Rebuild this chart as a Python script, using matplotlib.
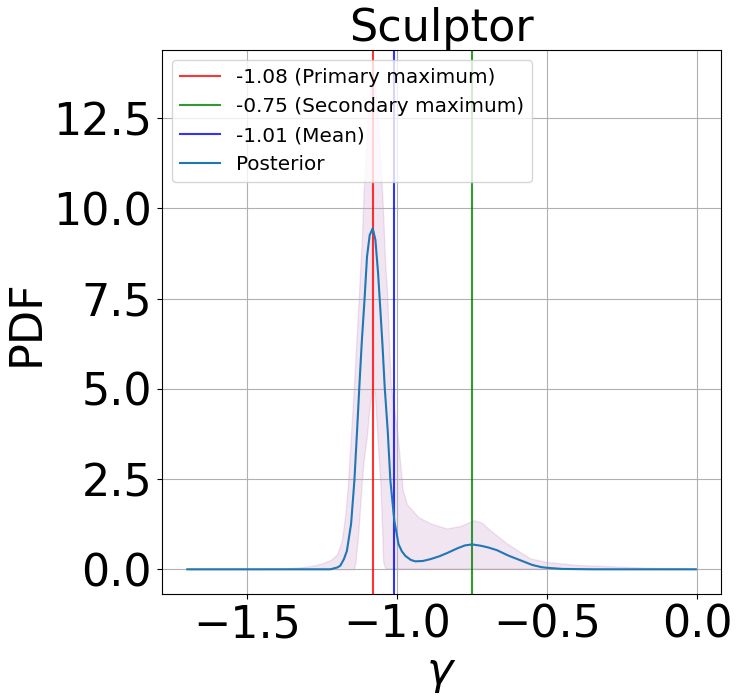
import matplotlib
matplotlib.use("Agg")
import matplotlib.pyplot as plt
from matplotlib.ticker import MultipleLocator

# posterior curve (gamma, pdf)
gamma = [-1.70, -1.40, -1.26, -1.223, -1.20, -1.19, -1.178, -1.168, -1.154, -1.143,
         -1.134, -1.126, -1.118, -1.109, -1.101, -1.092, -1.082, -1.073, -1.064, -1.057,
         -1.049, -1.042, -1.032, -1.023, -1.01, -0.996, -0.985, -0.973, -0.955, -0.94,
         -0.915, -0.89, -0.86, -0.834, -0.80, -0.775, -0.751, -0.72, -0.695, -0.668,
         -0.63, -0.59, -0.55, -0.52, -0.50, -0.45, -0.35, -0.005]
pdf = [0.0, 0.0, 0.0, 0.0, 0.05, 0.1, 0.28, 0.51, 1.26, 2.46,
       3.85, 5.14, 6.35, 7.5, 8.66, 9.26, 9.45, 9.13, 8.2, 7.27,
       6.16, 5.05, 3.85, 2.46, 1.35, 0.7, 0.5, 0.37, 0.26, 0.22,
       0.23, 0.28, 0.36, 0.45, 0.58, 0.66, 0.69, 0.65, 0.6, 0.53,
       0.38, 0.25, 0.12, 0.06, 0.04, 0.01, 0.0, 0.0]

# credible band
band_x = [-1.70, -1.40, -1.33, -1.28, -1.25, -1.223, -1.20, -1.185, -1.173, -1.165,
          -1.157, -1.145, -1.14, -1.13, -1.118, -1.112, -1.10, -1.095, -1.085, -1.08,
          -1.075, -1.065, -1.057, -1.051, -1.047, -1.04, -1.034, -1.022, -1.00, -0.99,
          -0.982, -0.968, -0.957, -0.93, -0.89, -0.834, -0.79, -0.746, -0.72, -0.69,
          -0.634, -0.557, -0.50, -0.40, -0.28, -0.15, -0.005]
band_hi = [0.0, 0.01, 0.05, 0.1, 0.17, 0.25, 0.42, 0.8, 1.54, 2.3,
           3.38, 5.0, 5.8, 7.3, 9.2, 10.5, 12.2, 13.0, 13.6, 13.7,
           13.5, 12.5, 11.3, 10.5, 9.8, 8.4, 7.7, 5.1, 3.8, 2.9,
           2.2, 1.8, 1.7, 1.45, 1.27, 1.13, 1.2, 1.36, 1.3, 1.08,
           0.71, 0.30, 0.2, 0.12, 0.08, 0.04, 0.02]
band_lo = [0.0, 0.0, 0.0, 0.0, 0.0, 0.0, 0.0, 0.0, 0.0, 0.0,
           0.0, 0.0, 0.15, 1.0, 2.46, 3.0, 3.8, 4.3, 5.0, 5.0,
           4.9, 3.5, 2.46, 1.2, 0.2, 0.03, 0.03, 0.03, 0.03, 0.03,
           0.03, 0.03, 0.03, 0.03, 0.03, 0.03, 0.03, 0.03, 0.03, 0.03,
           0.03, 0.03, 0.02, 0.01, 0.0, 0.0, 0.0]

primary = -1.08
secondary = -0.75
mean = -1.01

plt.figure(figsize=(7.39, 6.98), dpi=100)
ax = plt.axes([0.219, 0.149, 0.757, 0.779])
ax.axvline(primary, color='r', alpha=0.8, label='%.2f (Primary maximum)' % primary)
ax.axvline(secondary, color='g', alpha=0.8, label='%.2f (Secondary maximum)' % secondary)
ax.axvline(mean, color='b', alpha=0.8, label='%.2f (Mean)' % mean)
ax.fill_between(band_x, band_lo, band_hi, color='purple', alpha=0.1)
ax.plot(gamma, pdf, color='tab:blue', label='Posterior')
ax.yaxis.set_major_locator(MultipleLocator(2.5))
ax.grid()
ax.set_title('Sculptor', fontsize=32)
ax.set_xlabel(r'$\gamma$', fontsize=32)
ax.set_ylabel('PDF', fontsize=32)
ax.tick_params(labelsize=32)
ax.legend(fontsize=14.4, loc='upper left')
plt.savefig('out.png', dpi=100)
